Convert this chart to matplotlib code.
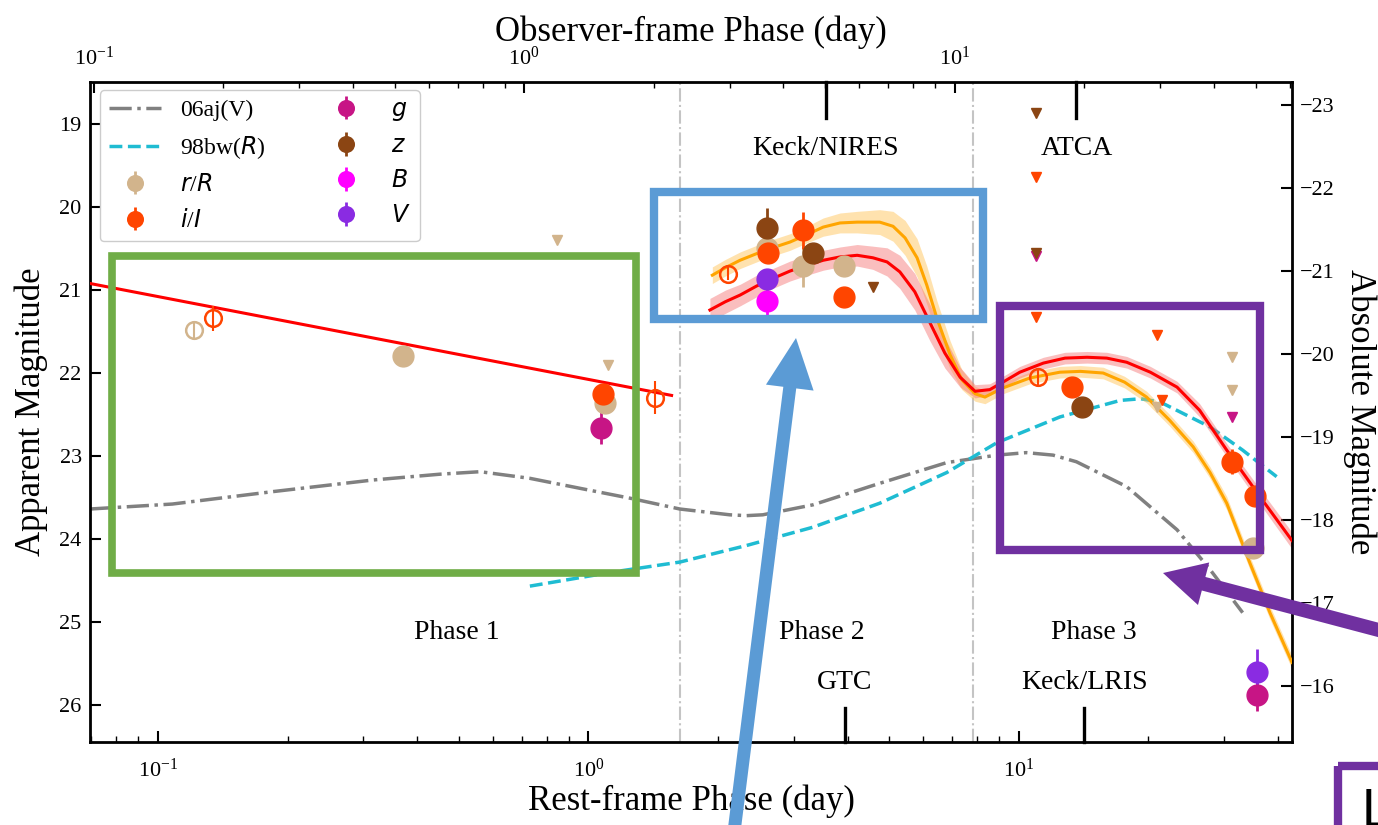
import numpy as np
import matplotlib
matplotlib.use('Agg')
import matplotlib.pyplot as plt
from matplotlib.patches import Rectangle, FancyArrow
from matplotlib.transforms import Affine2D, blended_transform_factory
from matplotlib.lines import Line2D
from matplotlib.ticker import LogLocator, NullFormatter

plt.rcParams['font.family'] = ['Liberation Serif', 'DejaVu Serif']
plt.rcParams['mathtext.fontset'] = 'custom'
plt.rcParams['mathtext.rm'] = 'Liberation Serif'
plt.rcParams['mathtext.it'] = 'DejaVu Sans:italic'
plt.rcParams['mathtext.bf'] = 'Liberation Serif:bold'

# ---------------- data ----------------
one_plus_z = 1.41       # observer / rest frame
dist_mod = 41.77        # apparent - absolute

# comparison light curves
aj_t = [0.0695, 0.108, 0.185, 0.316, 0.452, 0.56, 0.731, 0.955, 1.25, 1.63, 2.13, 2.33, 2.54,
        3.32, 4.75, 6.80, 8.89, 10.4, 12.0, 13.6, 17.8, 23.3, 27.8, 33.1]
aj_m = [23.64, 23.58, 23.43, 23.29, 23.22, 23.19, 23.27, 23.39, 23.51, 23.64, 23.71, 23.72, 23.71,
        23.59, 23.33, 23.08, 22.99, 22.96, 22.99, 23.07, 23.37, 23.89, 24.37, 24.89]
bw_t = [0.731, 1.14, 1.63, 2.33, 3.32, 4.75, 6.80, 8.89, 12.45, 17.2, 19.2, 21.3, 27.8, 33.1, 39.7]
bw_m = [24.57, 24.40, 24.28, 24.08, 23.86, 23.57, 23.20, 22.84, 22.53, 22.33, 22.31, 22.35, 22.65,
        22.93, 23.25]

# phase-1 power-law fit
p1_t = [0.0695, 1.56]
p1_m = [20.92, 22.27]

# model fits (red and orange) with band half widths
red_t = [1.915, 2.08, 2.25, 2.46, 2.68, 2.94, 3.22, 3.51, 3.84, 4.21, 4.58, 4.94, 5.29, 5.73,
         6.21, 6.73, 7.30, 7.91, 8.56, 9.18, 10.05, 11.4, 12.8, 14.4, 16.0, 17.8, 20.2, 23.3,
         26.3, 30.4, 36.3, 43.1]
red_m = [21.24, 21.14, 21.06, 20.95, 20.86, 20.77, 20.70, 20.64, 20.60, 20.58, 20.61, 20.66,
         20.78, 21.02, 21.39, 21.76, 22.05, 22.22, 22.20, 22.11, 21.99, 21.88, 21.82, 21.81,
         21.82, 21.87, 21.99, 22.17, 22.45, 22.93, 23.49, 24.02]
red_e = [0.14, 0.14, 0.13, 0.13, 0.12, 0.12, 0.12, 0.12, 0.12, 0.13, 0.14, 0.17, 0.20, 0.22,
         0.22, 0.18, 0.12, 0.08, 0.07, 0.07, 0.07, 0.07, 0.07, 0.07, 0.07, 0.07, 0.07, 0.07,
         0.08, 0.08, 0.09, 0.10]
org_t = [1.94, 2.08, 2.25, 2.57, 2.94, 3.22, 3.51, 3.84, 4.21, 4.75, 5.10, 5.44, 5.80, 6.11,
         6.45, 6.92, 7.37, 7.91, 8.34, 9.18, 10.6, 12.45, 13.9, 15.7, 17.6, 19.8, 22.4, 25.4,
         27.8, 30.4, 34.4, 38.3, 43.1]
org_m = [20.82, 20.73, 20.64, 20.52, 20.42, 20.33, 20.24, 20.19, 20.18, 20.18, 20.23, 20.37,
         20.61, 20.94, 21.34, 21.78, 22.08, 22.25, 22.29, 22.18, 22.06, 21.99, 21.98, 22.00,
         22.11, 22.29, 22.57, 22.89, 23.20, 23.57, 24.29, 24.89, 25.49]
org_e = [0.10, 0.10, 0.10, 0.10, 0.10, 0.10, 0.11, 0.12, 0.13, 0.15, 0.18, 0.21, 0.23, 0.23,
         0.21, 0.17, 0.12, 0.09, 0.08, 0.07, 0.07, 0.07, 0.07, 0.07, 0.07, 0.07, 0.07, 0.07,
         0.07, 0.08, 0.08, 0.08, 0.08]

# photometry: detections
r_t = [0.371, 1.09, 2.60, 3.15, 3.92, 35.0]
r_m = [21.80, 22.36, 20.49, 20.71, 20.71, 24.11]
r_e = [0.05, 0.10, 0.10, 0.25, 0.08, 0.08]
i_t = [1.08, 2.61, 3.15, 3.92, 13.3, 31.3, 35.3]
i_m = [22.25, 20.55, 20.28, 21.08, 22.17, 23.07, 23.48]
i_e = [0.12, 0.10, 0.22, 0.10, 0.08, 0.15, 0.10]
g_t = [1.07, 35.7]
g_m = [22.66, 25.88]
g_e = [0.20, 0.20]
z_t = [2.60, 3.32, 14.0]
z_m = [20.25, 20.55, 22.41]
z_e = [0.24, 0.08, 0.08]
B_t = [2.60]
B_m = [21.13]
B_e = [0.20]
V_t = [2.60, 35.7]
V_m = [20.86, 25.60]
V_e = [0.08, 0.27]

# open symbols
r_open_t = [0.121]
r_open_m = [21.48]
r_open_e = [0.10]
i_open_t = [0.134, 1.43, 2.11, 11.07]
i_open_m = [21.34, 22.30, 20.80, 22.05]
i_open_e = [0.15, 0.20, 0.08, 0.10]

# upper limits
r_lim_t = [0.845, 1.11, 20.9, 31.3, 31.3]
r_lim_m = [20.40, 21.90, 22.41, 21.81, 22.20]
i_lim_t = [10.95, 10.95, 20.9, 21.5]
i_lim_m = [19.63, 21.33, 21.54, 22.33]
g_lim_t = [10.95, 31.3]
g_lim_m = [20.59, 22.53]
z_lim_t = [4.58, 10.95, 10.95]
z_lim_m = [20.96, 18.86, 20.55]

phase_bounds = [1.63, 7.82]
tele_top_t = [3.56, 13.6]
tele_top_lab = ['Keck/NIRES', 'ATCA']
tele_bot_t = [3.94, 14.2]
tele_bot_lab = ['GTC', 'Keck/LRIS']
phase_t = [0.495, 3.49, 14.9]
phase_lab = ['Phase 1', 'Phase 2', 'Phase 3']

c_r = '#d2b48c'
c_i = '#ff4500'
c_g = '#c71585'
c_z = '#8b4513'
c_B = '#ff00ff'
c_V = '#8a2be2'

# ---------------- figure ----------------
W, H = 1378, 825
fig = plt.figure(figsize=(W / 100, H / 100), dpi=100)
ax = fig.add_axes([90 / W, 1 - 742 / H, (1292 - 90) / W, (742 - 82) / H])
ax.set_xscale('log')
ax.set_xlim(0.0695, 43.1)
ax.set_ylim(26.45, 18.49)

for tb in phase_bounds:
    ax.axvline(tb, color='#c4c4c4', ls='-.', lw=1.5, zorder=1)

ax.plot(aj_t, aj_m, color='#808080', ls='-.', lw=2.5, zorder=2)
ax.plot(bw_t, bw_m, color='#1fbcd2', ls='--', lw=2.5, zorder=2)
ax.plot(p1_t, p1_m, color='#ff0000', lw=2.2, zorder=3)

red_m_a = np.array(red_m); red_e_a = np.array(red_e)
org_m_a = np.array(org_m); org_e_a = np.array(org_e)
ax.fill_between(org_t, org_m_a - org_e_a, org_m_a + org_e_a, color='#ffc04d', alpha=0.45, lw=0, zorder=2)
ax.fill_between(red_t, red_m_a - red_e_a, red_m_a + red_e_a, color='#f47070', alpha=0.45, lw=0, zorder=2)
ax.plot(org_t, org_m, color='#ffa500', lw=2.2, zorder=3)
ax.plot(red_t, red_m, color='#ff0000', lw=2.2, zorder=3)

ms = 15
kw = dict(fmt='o', ms=ms, capsize=0, elinewidth=2, zorder=5)
h_r = ax.errorbar(r_t, r_m, yerr=r_e, color=c_r, **kw)
h_i = ax.errorbar(i_t, i_m, yerr=i_e, color=c_i, **kw)
h_g = ax.errorbar(g_t, g_m, yerr=g_e, color=c_g, **kw)
h_z = ax.errorbar(z_t, z_m, yerr=z_e, color=c_z, **kw)
h_B = ax.errorbar(B_t, B_m, yerr=B_e, color=c_B, **kw)
h_V = ax.errorbar(V_t, V_m, yerr=V_e, color=c_V, **kw)

ax.errorbar(r_open_t, r_open_m, yerr=r_open_e, fmt='o', ms=12, mfc='none', mec=c_r, mew=1.8,
            color=c_r, capsize=0, elinewidth=1.5, zorder=5)
ax.errorbar(i_open_t, i_open_m, yerr=i_open_e, fmt='o', ms=12, mfc='none', mec=c_i, mew=1.8,
            color=c_i, capsize=0, elinewidth=1.5, zorder=5)

for tt, mm, cc in [(r_lim_t, r_lim_m, c_r), (i_lim_t, i_lim_m, c_i),
                   (g_lim_t, g_lim_m, c_g), (z_lim_t, z_lim_m, c_z)]:
    ax.plot(tt, mm, 'v', color=cc, ms=7, ls='none', zorder=4)

# telescope markers
trans = blended_transform_factory(ax.transData, ax.transAxes)
for tt, lab in zip(tele_top_t, tele_top_lab):
    ax.plot([tt, tt], [1.0, 0.945], color='black', lw=2.4, transform=trans, zorder=6, clip_on=False)
    ax.text(tt, 19.29, lab, ha='center', va='center', fontsize=20)
for tt, lab in zip(tele_bot_t, tele_bot_lab):
    ax.plot([tt, tt], [0.0, 0.052], color='black', lw=2.4, transform=trans, zorder=6, clip_on=False)
    ax.text(tt, 25.73, lab, ha='center', va='center', fontsize=20)
for tt, lab in zip(phase_t, phase_lab):
    ax.text(tt, 25.13, lab, ha='center', va='center', fontsize=20)

# axes styling
ax.set_yticks([19, 20, 21, 22, 23, 24, 25, 26])
ax.tick_params(which='both', direction='in', top=False, right=False, labelsize=16)
ax.tick_params(axis='y', which='major', length=8, width=1.5, pad=6)
ax.tick_params(axis='x', which='major', length=8, width=1.5, pad=12)
ax.tick_params(axis='x', which='minor', length=4, width=1.0)
for s in ax.spines.values():
    s.set_linewidth(2)
ax.set_xlabel('Rest-frame Phase (day)', fontsize=25, labelpad=2)
ax.set_ylabel('Apparent Magnitude', fontsize=25, labelpad=8)

secx = ax.secondary_xaxis('top', functions=(lambda t: t * one_plus_z, lambda t: t / one_plus_z))
secx.set_xticks([0.1, 1, 10])
secx.xaxis.set_minor_locator(LogLocator(base=10, subs=np.arange(2, 10) * 1.0))
secx.xaxis.set_minor_formatter(NullFormatter())
secx.tick_params(which='both', direction='in', labelsize=16)
secx.tick_params(which='major', length=8, width=1.5, pad=9)
secx.tick_params(which='minor', length=4, width=1.0)
secx.set_xlabel('Observer-frame Phase (day)', fontsize=25, labelpad=4)

secy = ax.secondary_yaxis('right', functions=(lambda m: m - dist_mod, lambda M: M + dist_mod))
secy.set_yticks([-23, -22, -21, -20, -19, -18, -17, -16])
secy.tick_params(which='both', direction='in', labelsize=16, length=8, width=1.5, pad=6)
secy.set_ylabel('Absolute Magnitude', fontsize=25, rotation=270, labelpad=30)

h_aj = Line2D([], [], color='#808080', ls='-.', lw=2.5)
h_bw = Line2D([], [], color='#1fbcd2', ls='--', lw=2.5)
leg = ax.legend([h_aj, h_bw, h_r, h_i, h_g, h_z, h_B, h_V],
                ['06aj(V)', '98bw($R$)', '$r/R$', '$i/I$', '$g$', '$z$', '$B$', '$V$'],
                ncol=2, loc='upper left', bbox_to_anchor=(0.008, 0.988), borderaxespad=0,
                fontsize=17, labelspacing=0.55, borderpad=0.4, handlelength=2.2,
                handletextpad=0.8, columnspacing=2.3, markerscale=0.75, framealpha=1,
                edgecolor='#cccccc')
leg.set_zorder(10)

# ---------------- slide overlays (pixel coordinates, y from top) ----------------
pix = Affine2D().scale(1 / W, -1 / H).translate(0, 1) + fig.transFigure

def box(x0, y0, x1, y1, color, lw):
    fig.add_artist(Rectangle((x0, y0), x1 - x0, y1 - y0, fill=False, ec=color, lw=lw,
                             transform=pix, zorder=20, clip_on=False))

box(112, 256, 636, 573, '#70ad47', 5.5)
box(654, 192, 983, 319, '#5b9bd5', 6)
box(1000, 306, 1260, 550, '#7030a0', 6)
box(1338, 766, 1500, 900, '#7030a0', 6)

def arrow(x0, y0, x1, y1, color, width, hw, hl):
    fig.add_artist(FancyArrow(x0, y0, x1 - x0, y1 - y0, width=width, head_width=hw,
                              head_length=hl, length_includes_head=True, fc=color, ec='none',
                              transform=pix, zorder=21, clip_on=False))

arrow(733, 840, 796, 338, '#5b9bd5', 13, 48, 50)
arrow(1390, 633, 1163, 573, '#7030a0', 14, 44, 42)

fig.text(1362 / W, 1 - 826 / H, 'L', fontsize=38, family='Liberation Sans', ha='left',
         va='baseline', color='black', zorder=22)

fig.savefig('out.png', dpi=100)
